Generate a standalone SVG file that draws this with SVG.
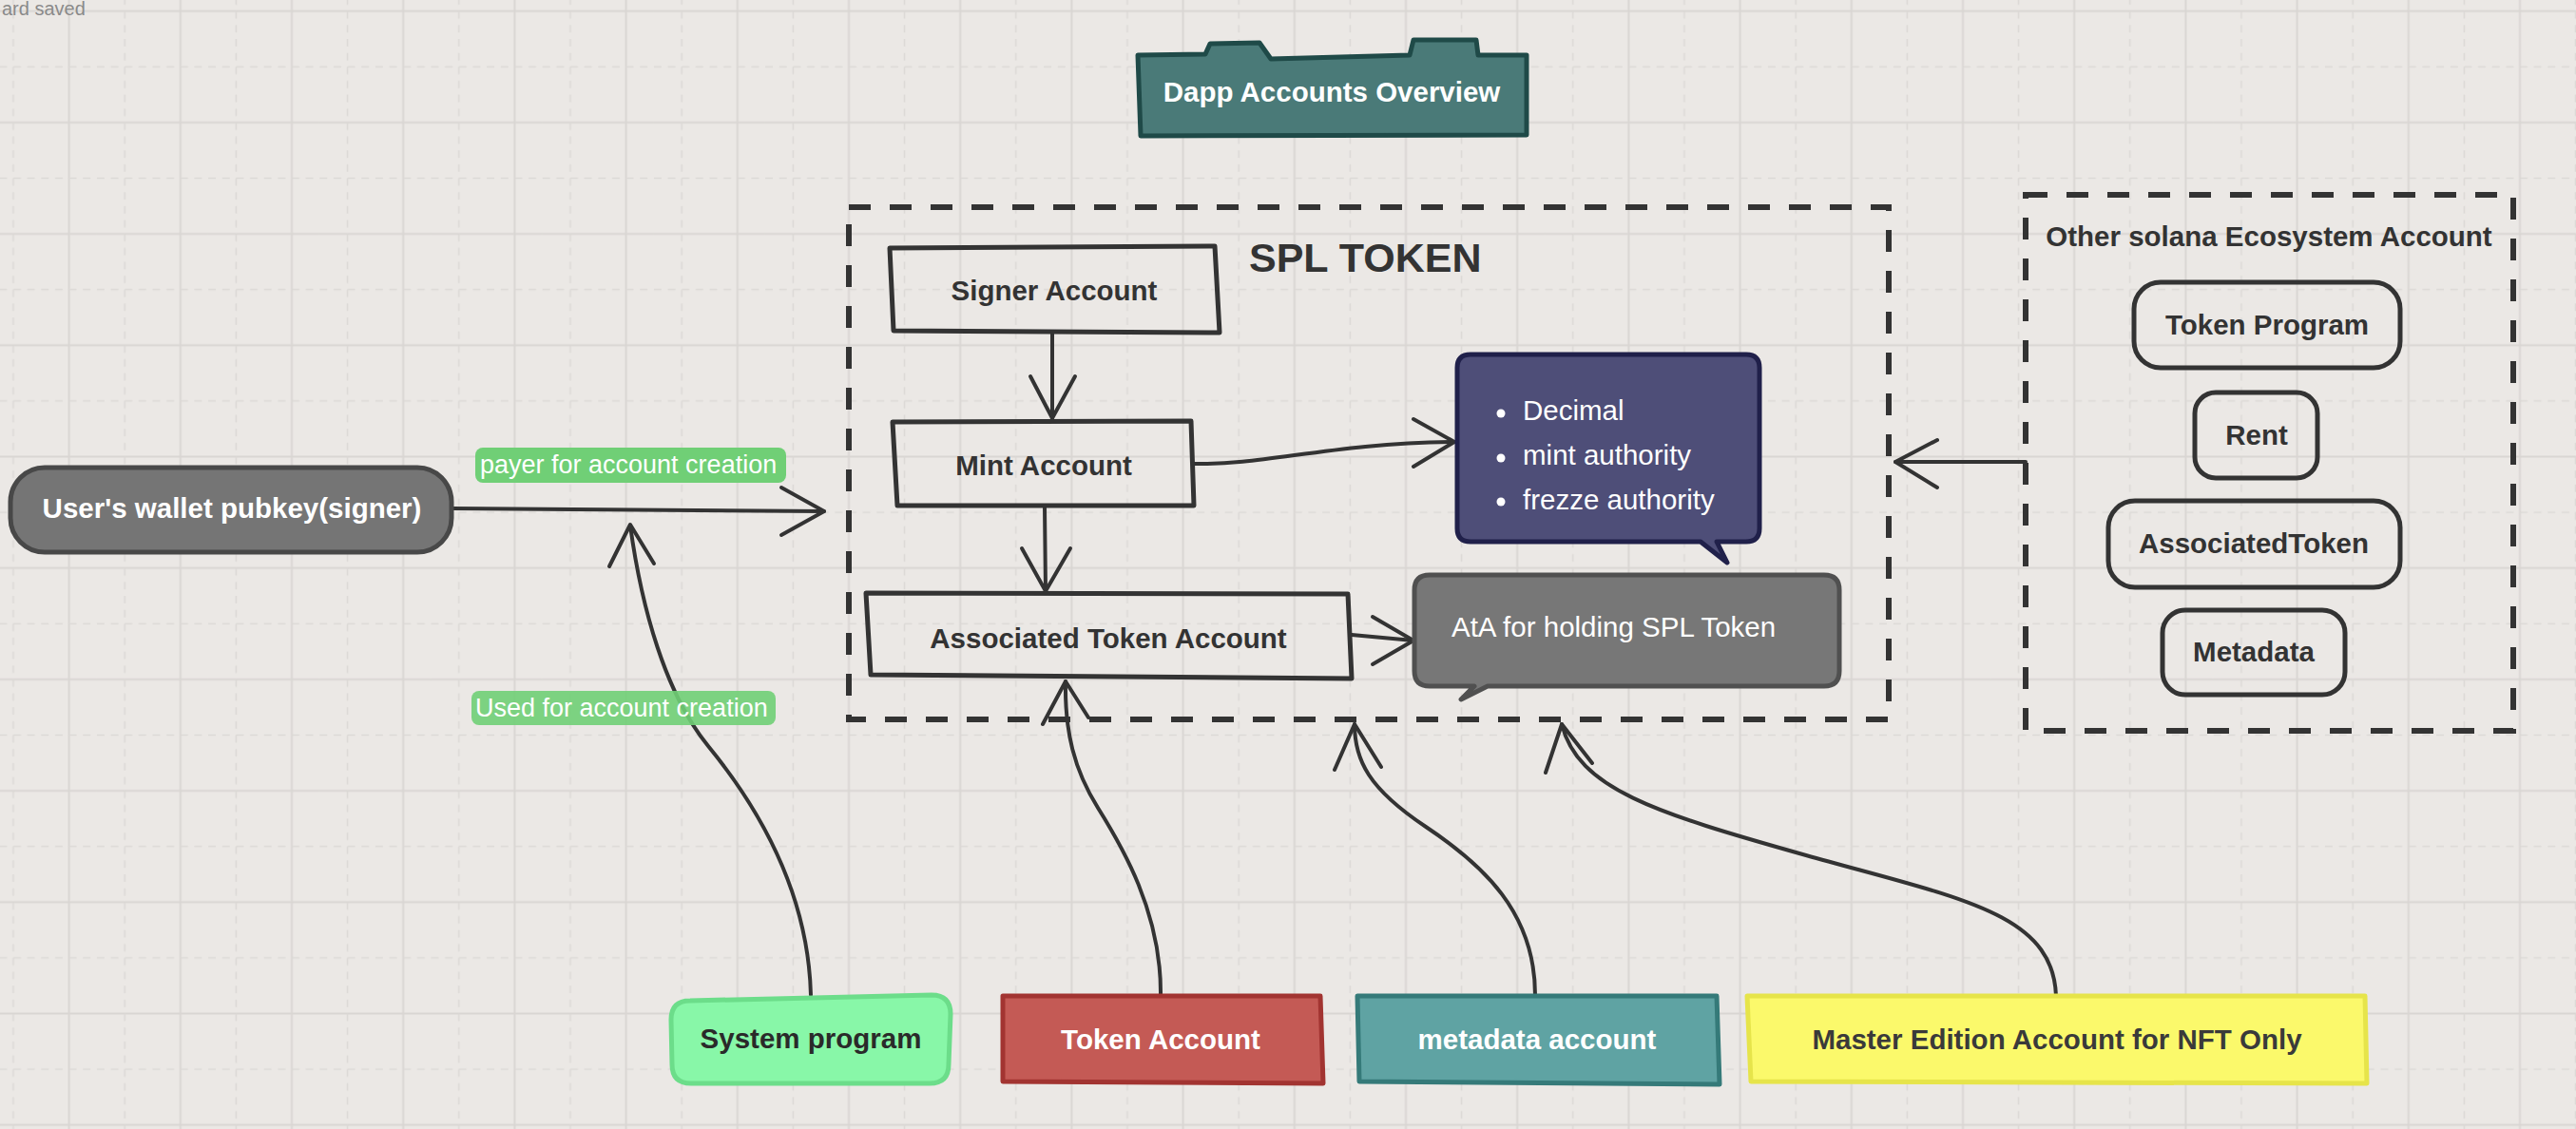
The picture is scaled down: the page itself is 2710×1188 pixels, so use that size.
<svg xmlns="http://www.w3.org/2000/svg" width="2710" height="1188" viewBox="0 0 2710 1188">
<defs>
<pattern id="grid" patternUnits="userSpaceOnUse" x="-15.3" y="-17.6" width="117.2" height="117.2">
<line x1="87.9" y1="0" x2="87.9" y2="117.2" stroke="#d9d6d3" stroke-width="2"/>
<line x1="0" y1="29.3" x2="117.2" y2="29.3" stroke="#d9d6d3" stroke-width="2"/>
<line x1="29.3" y1="0" x2="29.3" y2="117.2" stroke="#dcd9d6" stroke-width="1.6" stroke-dasharray="8 6.65"/>
<line x1="0" y1="87.9" x2="117.2" y2="87.9" stroke="#dcd9d6" stroke-width="1.6" stroke-dasharray="8 6.65"/>
</pattern>
</defs>
<style>
.b{font-family:"Liberation Sans",Arial,sans-serif;font-weight:bold;font-size:29.5px;text-anchor:middle}
.r{font-family:"Liberation Sans",Arial,sans-serif;font-size:29.5px}
.lbl{font-family:"Liberation Sans",Arial,sans-serif;font-size:27px;fill:#ffffff}
.dk{fill:#333333}
.wt{fill:#ffffff}
.box{fill:none;stroke:#333333;stroke-width:5;stroke-linejoin:round}
.cont{fill:none;stroke:#333333;stroke-width:6;stroke-dasharray:23 20}
.con{fill:none;stroke:#333333;stroke-width:4;stroke-linecap:round;stroke-linejoin:round}
</style>
<rect x="0" y="0" width="2710" height="1188" fill="#ebe8e5"/>
<rect x="0" y="0" width="2710" height="1188" fill="url(#grid)"/>
<text x="2" y="16" font-family="'Liberation Sans',Arial,sans-serif" font-size="20" fill="#8a8a8a">ard saved</text>

<g id="title">
<path d="M1197,58 L1268,57 L1273,46 L1325,45 L1337,62 L1483,58 L1487,42 L1553,42 L1555,58 L1606,58 L1606,142 L1200,143 Z" fill="#4a7a78" stroke="#1f4a48" stroke-width="5" stroke-linejoin="round"/>
<text x="1401" y="107" class="b wt">Dapp Accounts Overview</text>
</g>

<g id="spl-token">
<rect x="893" y="218" width="1094" height="539" class="cont"/>
<text x="1314" y="286" font-family="'Liberation Sans',Arial,sans-serif" font-weight="bold" font-size="43" fill="#333333">SPL TOKEN</text>
</g>

<g id="other-ecosystem">
<rect x="2131" y="205" width="513" height="564" class="cont"/>
<text x="2387" y="259" class="b dk">Other solana Ecosystem Account</text>
</g>

<g id="connectors">
<path class="con" d="M476,535 L867,538"/>
<path class="con" d="M822,513 L867,538 L822,563"/>
<path class="con" d="M1107,351 L1107,440"/>
<path class="con" d="M1084,396 L1107,440 L1131,396"/>
<path class="con" d="M1099,533 L1100,622"/>
<path class="con" d="M1075,577 L1100,622 L1126,577"/>
<path class="con" d="M1256,488 C1330,490 1400,466 1530,465"/>
<path class="con" d="M1487,441 L1530,465 L1487,491"/>
<path class="con" d="M1422,668 L1487,674"/>
<path class="con" d="M1444,649 L1487,674 L1444,699"/>
<path class="con" d="M2131,486 L1994,486"/>
<path class="con" d="M2038,463 L1994,486 L2038,513"/>
<path class="con" d="M853,1047 C850,930 790,840 745,785 S675,640 663,553"/>
<path class="con" d="M641,596 L663,552 L688,593"/>
<path class="con" d="M1221,1047 C1222,960 1180,890 1155,850 S1120,770 1121,717"/>
<path class="con" d="M1097,762 L1121,717 L1145,755"/>
<path class="con" d="M1615,1047 C1615,960 1560,910 1500,870 S1425,800 1425,762"/>
<path class="con" d="M1404,810 L1425,762 L1453,807"/>
<path class="con" d="M2163,1048 C2160,960 2060,945 1900,900 S1660,830 1643,762"/>
<path class="con" d="M1626,813 L1643,762 L1675,803"/>
<g id="label-payer">
<rect x="500" y="471" width="327" height="37" rx="8" fill="#70cf76"/>
<text x="505" y="498" class="lbl">payer for account creation</text>
</g>
<g id="label-used">
<rect x="496" y="727" width="320" height="36" rx="8" fill="#70cf76" fill-opacity="0.9"/>
<text x="500" y="754" class="lbl">Used for account creation</text>
</g>
</g>

<g id="signer-account">
<path class="box" d="M936,261 L1278,259 L1283,350 L940,348 Z"/>
<text x="1109" y="316" class="b dk">Signer Account</text>
</g>
<g id="mint-account">
<path class="box" d="M939,444 L1253,443 L1256,532 L944,532 Z"/>
<text x="1098" y="500" class="b dk">Mint Account</text>
</g>
<g id="associated-token-account">
<path class="box" d="M911,624 L1418,625 L1422,714 L916,710 Z"/>
<text x="1166" y="682" class="b dk">Associated Token Account</text>
</g>

<g id="mint-info">
<path d="M1547,373 L1837,373 Q1851,373 1851,387 L1851,556 Q1851,570 1837,570 L1806,570 L1817,592 L1789,570 L1547,570 Q1533,570 1533,556 L1533,387 Q1533,373 1547,373 Z" fill="#4e4e78" stroke="#20204a" stroke-width="5" stroke-linejoin="round"/>
<circle cx="1579" cy="435" r="4.5" fill="#ffffff"/>
<circle cx="1579" cy="482" r="4.5" fill="#ffffff"/>
<circle cx="1579" cy="528" r="4.5" fill="#ffffff"/>
<text x="1602" y="442" class="r wt">Decimal</text>
<text x="1602" y="489" class="r wt">mint authority</text>
<text x="1602" y="536" class="r wt">frezze authority</text>
</g>

<g id="ata-info">
<path d="M1504,605 L1919,605 Q1935,605 1935,621 L1935,706 Q1935,722 1919,722 L1565,722 L1537,736 L1551,722 L1504,722 Q1488,722 1488,706 L1488,621 Q1488,605 1504,605 Z" fill="#777777" stroke="#505050" stroke-width="5" stroke-linejoin="round"/>
<text x="1527" y="670" class="r wt">AtA for holding SPL Token</text>
</g>

<g id="wallet">
<rect x="11" y="492" width="464" height="89" rx="36" fill="#757575" stroke="#484848" stroke-width="5"/>
<text x="244" y="545" class="b wt">User's wallet pubkey(signer)</text>
</g>

<g id="token-program">
<rect x="2245" y="297" width="280" height="90" rx="28" class="box"/>
<text x="2385" y="352" class="b dk">Token Program</text>
</g>
<g id="rent">
<rect x="2309" y="413" width="129" height="90" rx="22" class="box"/>
<text x="2374" y="468" class="b dk">Rent</text>
</g>
<g id="associated-token">
<rect x="2218" y="527" width="307" height="91" rx="28" class="box"/>
<text x="2371" y="582" class="b dk">AssociatedToken</text>
</g>
<g id="metadata">
<rect x="2275" y="642" width="192" height="89" rx="24" class="box"/>
<text x="2371" y="696" class="b dk">Metadata</text>
</g>

<g id="system-program">
<path d="M726,1053 L980,1047 Q1000,1047 1000,1067 L998,1120 Q998,1140 978,1140 L727,1140 Q707,1140 707,1120 L706,1073 Q706,1053 726,1053 Z" fill="#88f7a8" stroke="#6cdd8a" stroke-width="5"/>
<text x="853" y="1103" class="b" fill="#2a2a2a">System program</text>
</g>
<g id="token-account">
<path d="M1055,1048 L1389,1048 L1392,1140 L1055,1138 Z" fill="#c45a55" stroke="#a23431" stroke-width="5" stroke-linejoin="round"/>
<text x="1221" y="1104" class="b wt">Token Account</text>
</g>
<g id="metadata-account">
<path d="M1428,1048 L1806,1048 L1809,1141 L1430,1138 Z" fill="#5fa3a3" stroke="#357a79" stroke-width="5" stroke-linejoin="round"/>
<text x="1617" y="1104" class="b wt">metadata account</text>
</g>
<g id="master-edition">
<path d="M1838,1048 L2488,1048 L2490,1140 L1842,1138 Z" fill="#fbf96b" stroke="#e6e44a" stroke-width="5" stroke-linejoin="round"/>
<text x="2164" y="1104" class="b" fill="#3a3a3a">Master Edition Account for NFT Only</text>
</g>
</svg>
